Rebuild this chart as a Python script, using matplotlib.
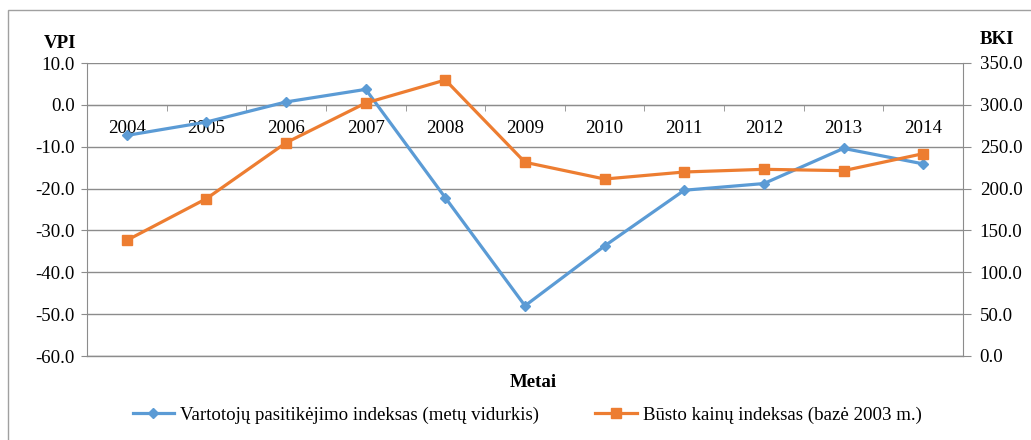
import matplotlib.pyplot as plt
import matplotlib.patches as mpatches
from matplotlib.ticker import FixedLocator, MultipleLocator

plt.rcParams['font.family'] = ['Liberation Serif', 'DejaVu Serif']

# data
years = ['2004', '2005', '2006', '2007', '2008', '2009',
         '2010', '2011', '2012', '2013', '2014']
vpi = [-7.3, -4.1, 0.7, 3.7, -22.2, -48.0, -33.7, -20.4, -18.8, -10.4, -14.1]
bki = [138.2, 188.0, 254.8, 302.2, 329.7, 231.4, 211.4, 219.8, 223.0, 221.4, 241.7]

BLUE = '#5B9BD5'
ORANGE = '#ED7D31'
GRID = '#8C8C8C'
FS = 13.6

W, H = 1031, 440
fig = plt.figure(figsize=(W / 100, H / 100), dpi=100, facecolor='white')
ax = fig.add_axes([87 / W, 1 - 356 / H, (963 - 87) / W, (356 - 63) / H])
ax2 = ax.twinx()

# outer chart frame
fig.add_artist(mpatches.Rectangle((8 / W, -0.1), 1.2, 1 - 10 / H + 0.1,
                                  transform=fig.transFigure, fill=False,
                                  edgecolor='#A0A0A0', linewidth=1.0))

x = list(range(len(years)))

ax.plot(x, vpi, color=BLUE, linewidth=2.3, marker='D', markersize=5.2,
        label='Vartotojų pasitikėjimo indeksas (metų vidurkis)', zorder=3)
ax2.plot(x, bki, color=ORANGE, linewidth=2.3, marker='s', markersize=6.8,
         label='Būsto kainų indeksas (bazė 2003 m.)', zorder=3)

ax.set_xlim(-0.5, len(years) - 0.5)
ax.set_ylim(-60, 10)
ax2.set_ylim(0, 350)

ax.yaxis.set_major_locator(MultipleLocator(10))
ax2.yaxis.set_major_locator(MultipleLocator(50))
ax.yaxis.set_major_formatter(lambda v, p: f'{v:.1f}')
ax2.yaxis.set_major_formatter(lambda v, p: f'{v:.1f}')

ax.grid(axis='y', color=GRID, linewidth=1.0)
ax.set_axisbelow(True)
# bottom edge of plot area
ax.axhline(-60, color=GRID, linewidth=1.0, clip_on=False, zorder=0.5)

# x axis crossing at VPI = 0
for a in (ax, ax2):
    for s in a.spines.values():
        s.set_visible(False)
ax.spines['bottom'].set_visible(True)
ax.spines['bottom'].set_position(('data', 0))
ax.spines['bottom'].set_color(GRID)
ax.spines['left'].set_visible(True)
ax.spines['left'].set_color(GRID)
ax2.spines['right'].set_visible(True)
ax2.spines['right'].set_color(GRID)

ax.set_xticks(x)
ax.set_xticklabels(years)
ax.xaxis.set_minor_locator(FixedLocator([i + 0.5 for i in x[:-1]]))
ax.tick_params(axis='x', which='major', length=0, pad=11, labelsize=FS)
ax.tick_params(axis='x', which='minor', length=4, color=GRID, direction='out')
ax.tick_params(axis='y', length=4, color=GRID, pad=5, labelsize=FS)
ax2.tick_params(axis='y', length=6, color=GRID, pad=6, labelsize=FS)

fig.text(60 / W, 1 - 43 / H, 'VPI', fontsize=FS, fontweight='bold',
         ha='center', va='center')
fig.text(997 / W, 1 - 39 / H, 'BKI', fontsize=FS, fontweight='bold',
         ha='center', va='center')
fig.text(533 / W, 1 - 382 / H, 'Metai', fontsize=FS, fontweight='bold',
         ha='center', va='center')

h1, l1 = ax.get_legend_handles_labels()
h2, l2 = ax2.get_legend_handles_labels()
fig.legend(h1 + h2, l1 + l2, loc='center', bbox_to_anchor=(527 / W, 1 - 415 / H),
           ncol=2, frameon=False, fontsize=FS, handlelength=2.2,
           handletextpad=0.3, columnspacing=3.0)

fig.savefig('out.png', dpi=100, facecolor='white')
